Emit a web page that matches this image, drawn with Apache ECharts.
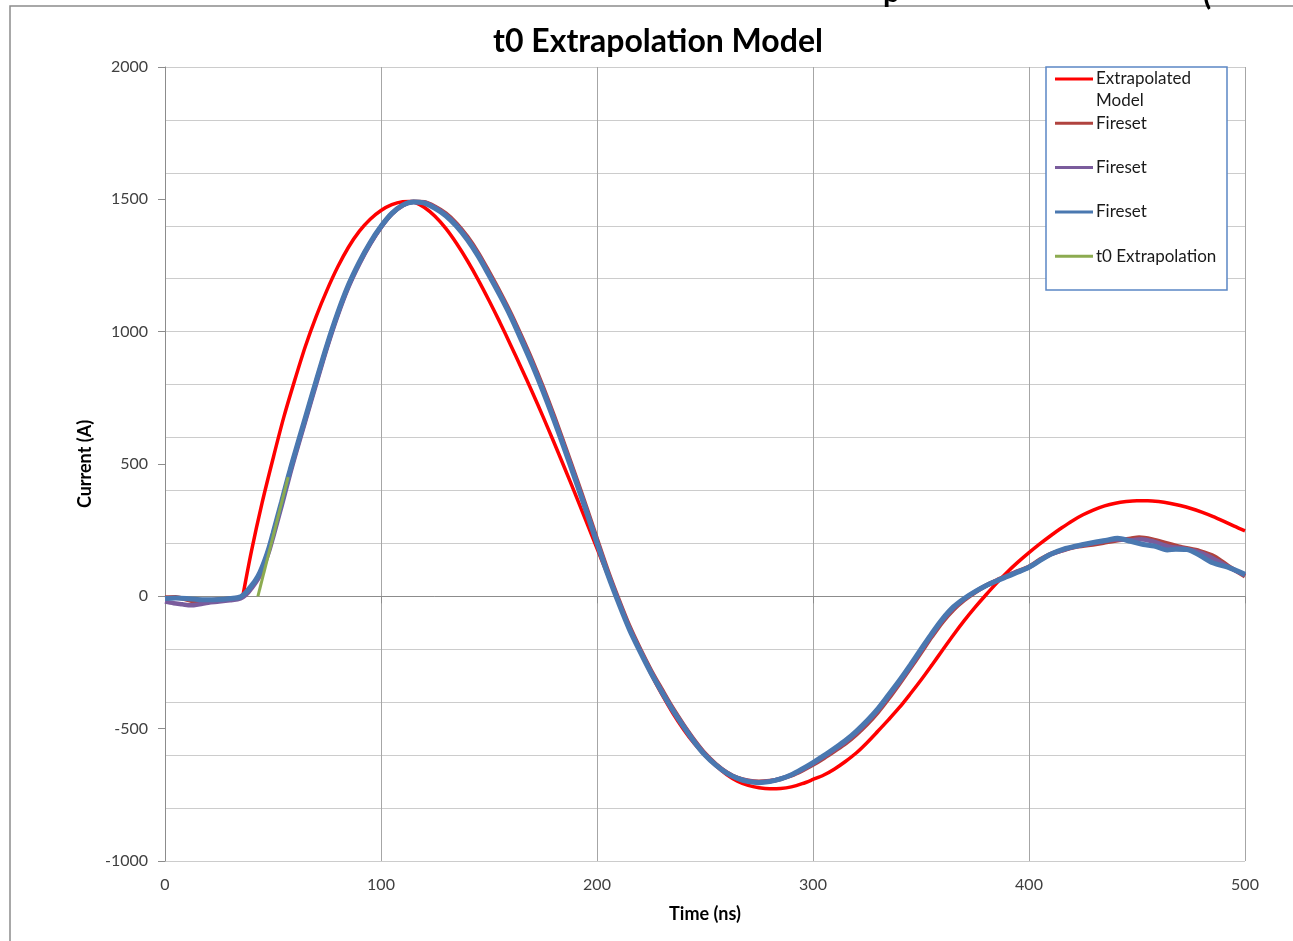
<!DOCTYPE html>
<html>
<head>
<meta charset="utf-8">
<title>t0 Extrapolation Model</title>
<script src="https://cdn.jsdelivr.net/npm/echarts@6.0.0/dist/echarts.min.js"></script>
<style>
	html, body { margin: 0; padding: 0; background: #fff; }
	#chart { width: 1293px; height: 941px; }
</style>
</head>
<body>
<div id="chart"></div>
<script>
// values: [time (ns), current (A)]
const modelData = [
	[36, 0], [40, 170], [45, 355], [50, 520], [55, 677], [60, 815], [65, 945], [70, 1058], [75, 1157],
	[80, 1245], [85, 1320], [90, 1380], [95, 1425], [100, 1458], [105, 1480], [110, 1491], [113, 1492],
	[116, 1488], [120, 1470], [125, 1436], [130, 1390], [135, 1333], [140, 1268], [145, 1196], [150, 1118],
	[155, 1036], [160, 950], [165, 862], [170, 772], [175, 679], [180, 583], [185, 485], [190, 385],
	[195, 283], [200, 181], [205, 80], [210, -20], [215, -117], [220, -208], [225, -293], [230, -370],
	[235, -440], [240, -502], [245, -556], [250, -601], [255, -640], [260, -673], [265, -698], [270, -714],
	[275, -723], [280, -727], [285, -726], [290, -720], [295, -708], [300, -692], [305, -675], [310, -652],
	[315, -624], [320, -592], [325, -553], [330, -510], [335, -466], [340, -420], [345, -369], [350, -316],
	[355, -260], [360, -203], [365, -146], [370, -92], [375, -42], [380, 5], [385, 50], [390, 92],
	[395, 130], [400, 165], [405, 198], [410, 229], [415, 258], [420, 285], [425, 308], [430, 327],
	[435, 342], [440, 352], [445, 358], [450, 361], [455, 361], [460, 358], [465, 352], [470, 343],
	[475, 332], [480, 318], [485, 302], [490, 284], [495, 265], [500, 247]
];

const fireset1Data = [
	[0, -4], [5, -3], [10, -12], [15, -20], [20, -16], [25, -12], [30, -9], [35, -3], [38, 16], [40, 36],
	[42, 58], [44, 88], [46, 128], [48, 175], [50, 232], [52, 292], [54, 352], [56, 414], [58, 474],
	[60, 532], [65, 670], [70, 810], [75, 945], [80, 1068], [85, 1174], [90, 1260], [95, 1334], [100, 1396],
	[105, 1446], [110, 1478], [115, 1491], [120, 1489], [125, 1472], [130, 1446], [135, 1408], [140, 1358],
	[145, 1297], [150, 1225], [155, 1150], [160, 1070], [165, 982], [170, 890], [175, 790], [180, 683],
	[185, 570], [190, 455], [195, 337], [200, 215], [205, 96], [210, -12], [215, -113], [220, -200],
	[225, -280], [230, -352], [235, -422], [240, -485], [245, -543], [250, -594], [255, -634], [260, -665],
	[265, -686], [270, -697], [275, -701], [280, -698], [285, -690], [290, -677], [295, -658], [300, -636],
	[305, -611], [310, -584], [315, -556], [320, -522], [325, -483], [330, -438], [335, -386], [340, -330],
	[345, -272], [350, -212], [355, -152], [360, -96], [365, -50], [370, -14], [375, 15], [380, 40],
	[385, 60], [390, 78], [395, 95], [400, 112], [405, 138], [410, 160], [416, 175], [422, 188], [431, 198],
	[436, 205], [441, 212], [447, 218], [451, 222], [457, 215], [464, 200], [471, 185], [479, 171],
	[486, 150], [493, 110], [500, 76]
];

const fireset2Data = [
	[0, -20], [4, -26], [8, -30], [12, -34], [16, -30], [20, -24], [25, -20], [30, -15], [35, -8], [38, 10],
	[40, 30], [42, 52], [44, 80], [46, 120], [48, 166], [50, 222], [52, 282], [54, 342], [56, 404],
	[58, 465], [60, 524], [65, 664], [70, 803], [75, 940], [80, 1063], [85, 1170], [90, 1257], [95, 1332],
	[100, 1395], [105, 1445], [110, 1477], [115, 1490], [120, 1488], [125, 1469], [130, 1442], [135, 1403],
	[140, 1352], [145, 1291], [150, 1218], [155, 1143], [160, 1063], [165, 975], [170, 882], [175, 782],
	[180, 675], [185, 562], [190, 447], [195, 329], [200, 207], [205, 89], [210, -18], [215, -119],
	[220, -205], [225, -285], [230, -357], [235, -426], [240, -488], [245, -546], [250, -597], [255, -636],
	[260, -666], [265, -687], [270, -698], [275, -702], [280, -699], [285, -689], [290, -675], [295, -655],
	[300, -632], [305, -606], [310, -578], [315, -550], [320, -516], [325, -476], [330, -431], [335, -378],
	[340, -324], [345, -266], [350, -206], [355, -146], [360, -90], [365, -45], [370, -10], [375, 17],
	[380, 40], [385, 59], [390, 77], [395, 94], [400, 110], [405, 136], [410, 158], [416, 176], [422, 189],
	[431, 203], [436, 210], [441, 215], [447, 212], [452, 216], [458, 206], [465, 188], [472, 180],
	[480, 163], [487, 135], [493, 108], [500, 80]
];

const fireset3Data = [
	[0, -8], [5, -6], [10, -8], [15, -12], [20, -13], [25, -12], [30, -8], [35, -2], [38, 20], [40, 40],
	[42, 62], [44, 92], [46, 132], [48, 180], [50, 238], [52, 298], [54, 358], [56, 420], [58, 480],
	[60, 537], [65, 676], [70, 815], [75, 950], [80, 1072], [85, 1178], [90, 1264], [95, 1337], [100, 1398],
	[105, 1447], [110, 1478], [115, 1490], [120, 1486], [125, 1466], [130, 1438], [135, 1398], [140, 1347],
	[145, 1285], [150, 1213], [155, 1138], [160, 1058], [165, 968], [170, 875], [175, 775], [180, 668],
	[185, 555], [190, 440], [195, 322], [200, 200], [205, 82], [210, -25], [215, -125], [220, -210],
	[225, -290], [230, -362], [235, -430], [240, -492], [245, -550], [250, -600], [255, -638], [260, -668],
	[265, -688], [270, -700], [275, -704], [280, -700], [285, -690], [290, -674], [295, -652], [300, -628],
	[305, -602], [310, -574], [315, -545], [320, -510], [325, -470], [330, -425], [335, -372], [340, -318],
	[345, -260], [350, -200], [355, -140], [360, -85], [365, -40], [370, -8], [375, 18], [380, 40],
	[385, 58], [390, 75], [395, 92], [400, 110], [405, 135], [410, 159], [416, 178], [422, 190], [431, 205],
	[436, 212], [441, 219], [447, 208], [453, 196], [458, 190], [464, 175], [468, 178], [473, 177],
	[479, 155], [485, 127], [492, 110], [500, 83]
];

const t0Data = [[43, 0], [57, 450]];

const seriesNames = ['Extrapolated\nModel', 'Fireset', 'Fireset', 'Fireset', 't0 Extrapolation'];
const seriesColors = ['#ff0000', '#b0433f', '#7a5c9c', '#4a78b0', '#8cab50'];
const seriesWidths = [3.5, 4.5, 4.5, 5, 3];
const seriesData = [modelData, fireset1Data, fireset2Data, fireset3Data, t0Data];

const font = 'Lato, "Open Sans", sans-serif';

const chart = echarts.init(document.getElementById('chart'));

// legend is drawn by hand, Excel style (box with line samples)
const legendItems = [];
seriesNames.forEach(function (name, i) {
	const cy = 79 + 44.3 * i;
	legendItems.push({
		type: 'line',
		shape: { x1: 1055, y1: cy, x2: 1093, y2: cy },
		style: { stroke: seriesColors[i], lineWidth: 3 },
		z: 101
	});
	legendItems.push({
		type: 'text',
		x: 1096,
		y: cy - 11,
		style: {
			text: name,
			font: '17px ' + font,
			fill: '#1a1a1a',
			lineHeight: 22,
			verticalAlign: 'top'
		},
		z: 101
	});
});

chart.setOption({
	animation: false,
	backgroundColor: '#fff',
	textStyle: { fontFamily: font },
	grid: { left: 165, right: 48, top: 67, bottom: 80 },
	graphic: [
		{
			// outer chart border
			type: 'rect',
			shape: { x: 10, y: 6, width: 1300, height: 960 },
			style: { fill: 'none', stroke: '#8c8c8c', lineWidth: 1.5 },
			z: 0
		},
		{
			type: 'text',
			x: 658,
			y: 26,
			style: {
				text: 't0 Extrapolation Model',
				font: 'bold 32px ' + font,
				fill: '#000',
				align: 'center',
				verticalAlign: 'top'
			}
		},
		// bits of cut-off text above the chart
		{
			type: 'text', x: 883, y: 7,
			style: { text: 'p', font: 'bold 30px ' + font, fill: '#000', verticalAlign: 'bottom' }
		},
		{
			type: 'text', x: 1203, y: 10,
			style: { text: '(', font: 'bold 30px ' + font, fill: '#000', verticalAlign: 'bottom' }
		},
		{
			type: 'rect',
			shape: { x: 1046, y: 67, width: 181, height: 223 },
			style: { fill: '#fff', stroke: '#5b87c5', lineWidth: 1.5 },
			z: 100
		}
	].concat(legendItems),
	xAxis: {
		type: 'value',
		min: 0,
		max: 500,
		interval: 100,
		name: 'Time (ns)',
		nameLocation: 'middle',
		nameGap: 44,
		nameTextStyle: { fontFamily: font, fontSize: 18, fontWeight: 'bold', color: '#000' },
		axisLine: { lineStyle: { color: '#8c8c8c', width: 1 } },
		axisTick: { show: true, length: 7, lineStyle: { color: '#8c8c8c' } },
		axisLabel: { color: '#404040', fontSize: 16, fontFamily: font, margin: 16 },
		splitLine: { show: true, lineStyle: { color: '#a6a6a6', width: 1 } }
	},
	yAxis: [
		{
			type: 'value',
			min: -1000,
			max: 2000,
			interval: 500,
			name: 'Current (A)',
			nameLocation: 'middle',
			nameGap: 70,
			nameTextStyle: { fontFamily: font, fontSize: 18, fontWeight: 'bold', color: '#000' },
			axisLine: { show: true, lineStyle: { color: '#8c8c8c', width: 1 } },
			axisTick: { show: true, length: 7, lineStyle: { color: '#8c8c8c' } },
			axisLabel: {
				color: '#404040', fontSize: 16, fontFamily: font, margin: 17,
				formatter: function (v) { return String(v); }
			},
			splitLine: { show: false }
		},
		{
			// minor grid every 200 A
			type: 'value',
			min: -1000,
			max: 2000,
			interval: 200,
			position: 'left',
			axisLine: { show: false },
			axisTick: { show: false },
			axisLabel: { show: false },
			splitLine: { show: true, lineStyle: { color: '#cccccc', width: 1 } }
		}
	],
	series: seriesData.map(function (data, i) {
		return {
			name: seriesNames[i],
			type: 'line',
			data: data,
			smooth: i === 4 ? false : 0.3,
			showSymbol: false,
			symbol: 'none',
			lineStyle: { color: seriesColors[i], width: seriesWidths[i] },
			itemStyle: { color: seriesColors[i] },
			z: 2 + i
		};
	})
});
</script>
</body>
</html>
